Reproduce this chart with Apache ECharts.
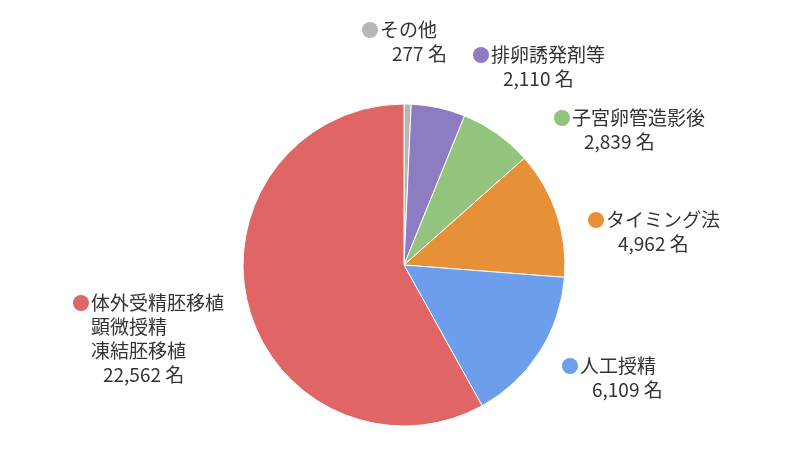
<!DOCTYPE html>
<html lang="ja">
<head>
    <meta charset="utf-8">
    <title>不妊治療の内訳</title>
    <script src="https://cdn.jsdelivr.net/npm/echarts@6/dist/echarts.min.js"></script>
    <style>
        html, body { margin: 0; padding: 0; background: #fff; }
        #main { width: 810px; height: 458px; }
    </style>
</head>
<body>
    <div id="main"></div>

    <script type="text/javascript">
    // データ（時計回り、12時の位置から）
    var names = ['その他', '排卵誘発剤等', '子宮卵管造影後', 'タイミング法', '人工授精', '体外受精胚移植\n顕微授精\n凍結胚移植'];
    var counts = [277, 2110, 2839, 4962, 6109, 22562];
    var unit = '名';

    var colors = ['#b7b7b7', '#8e7cc3', '#93c47d', '#e69138', '#6d9eeb', '#e06666'];
    // ラベルの左上位置 (px)
    var labelAt = [[362, 18], [473, 43], [554, 106], [588, 208], [562, 354], [73, 291]];

    var FONT = '"Noto Sans CJK JP", "Noto Sans", sans-serif';

    var rich = {
        name: { fontSize: 19, lineHeight: 24, color: '#333', fontFamily: FONT, padding: [0, 0, 0, 2] },
        sub:  { fontSize: 19, lineHeight: 24, color: '#333', fontFamily: FONT, padding: [0, 0, 0, 18] },
        num:  { fontSize: 19, lineHeight: 24, color: '#333', fontFamily: FONT, padding: [0, 0, 0, 30] }
    };
    colors.forEach(function (c, i) {
        rich['d' + i] = { width: 16, height: 16, borderRadius: 8, backgroundColor: c };
    });

    var pieData = counts.map(function (v, i) {
        return { name: names[i], value: v, itemStyle: { color: colors[i] } };
    });

    var myChart = echarts.init(document.getElementById('main'));

    myChart.setOption({
        animation: false,
        series: [{
            type: 'pie',
            center: [404, 265],
            radius: 161,
            startAngle: 90,
            clockwise: true,
            avoidLabelOverlap: false,
            itemStyle: { borderColor: '#fff', borderWidth: 1 },
            emphasis: { disabled: true },
            labelLine: { show: false },
            label: {
                show: true,
                position: 'outside',
                align: 'left',
                formatter: function (p) {
                    var lines = p.name.split('\n');
                    var s = '{d' + p.dataIndex + '|}{name|' + lines[0] + '}';
                    for (var k = 1; k < lines.length; k++) {
                        s += '\n{sub|' + lines[k] + '}';
                    }
                    s += '\n{num|' + p.value.toLocaleString('en-US') + ' ' + unit + '}';
                    return s;
                },
                rich: rich
            },
            labelLayout: function (p) {
                var pos = labelAt[p.dataIndex];
                return { x: pos[0], y: pos[1], align: 'left', verticalAlign: 'top' };
            },
            data: pieData
        }]
    });
    </script>
</body>
</html>
